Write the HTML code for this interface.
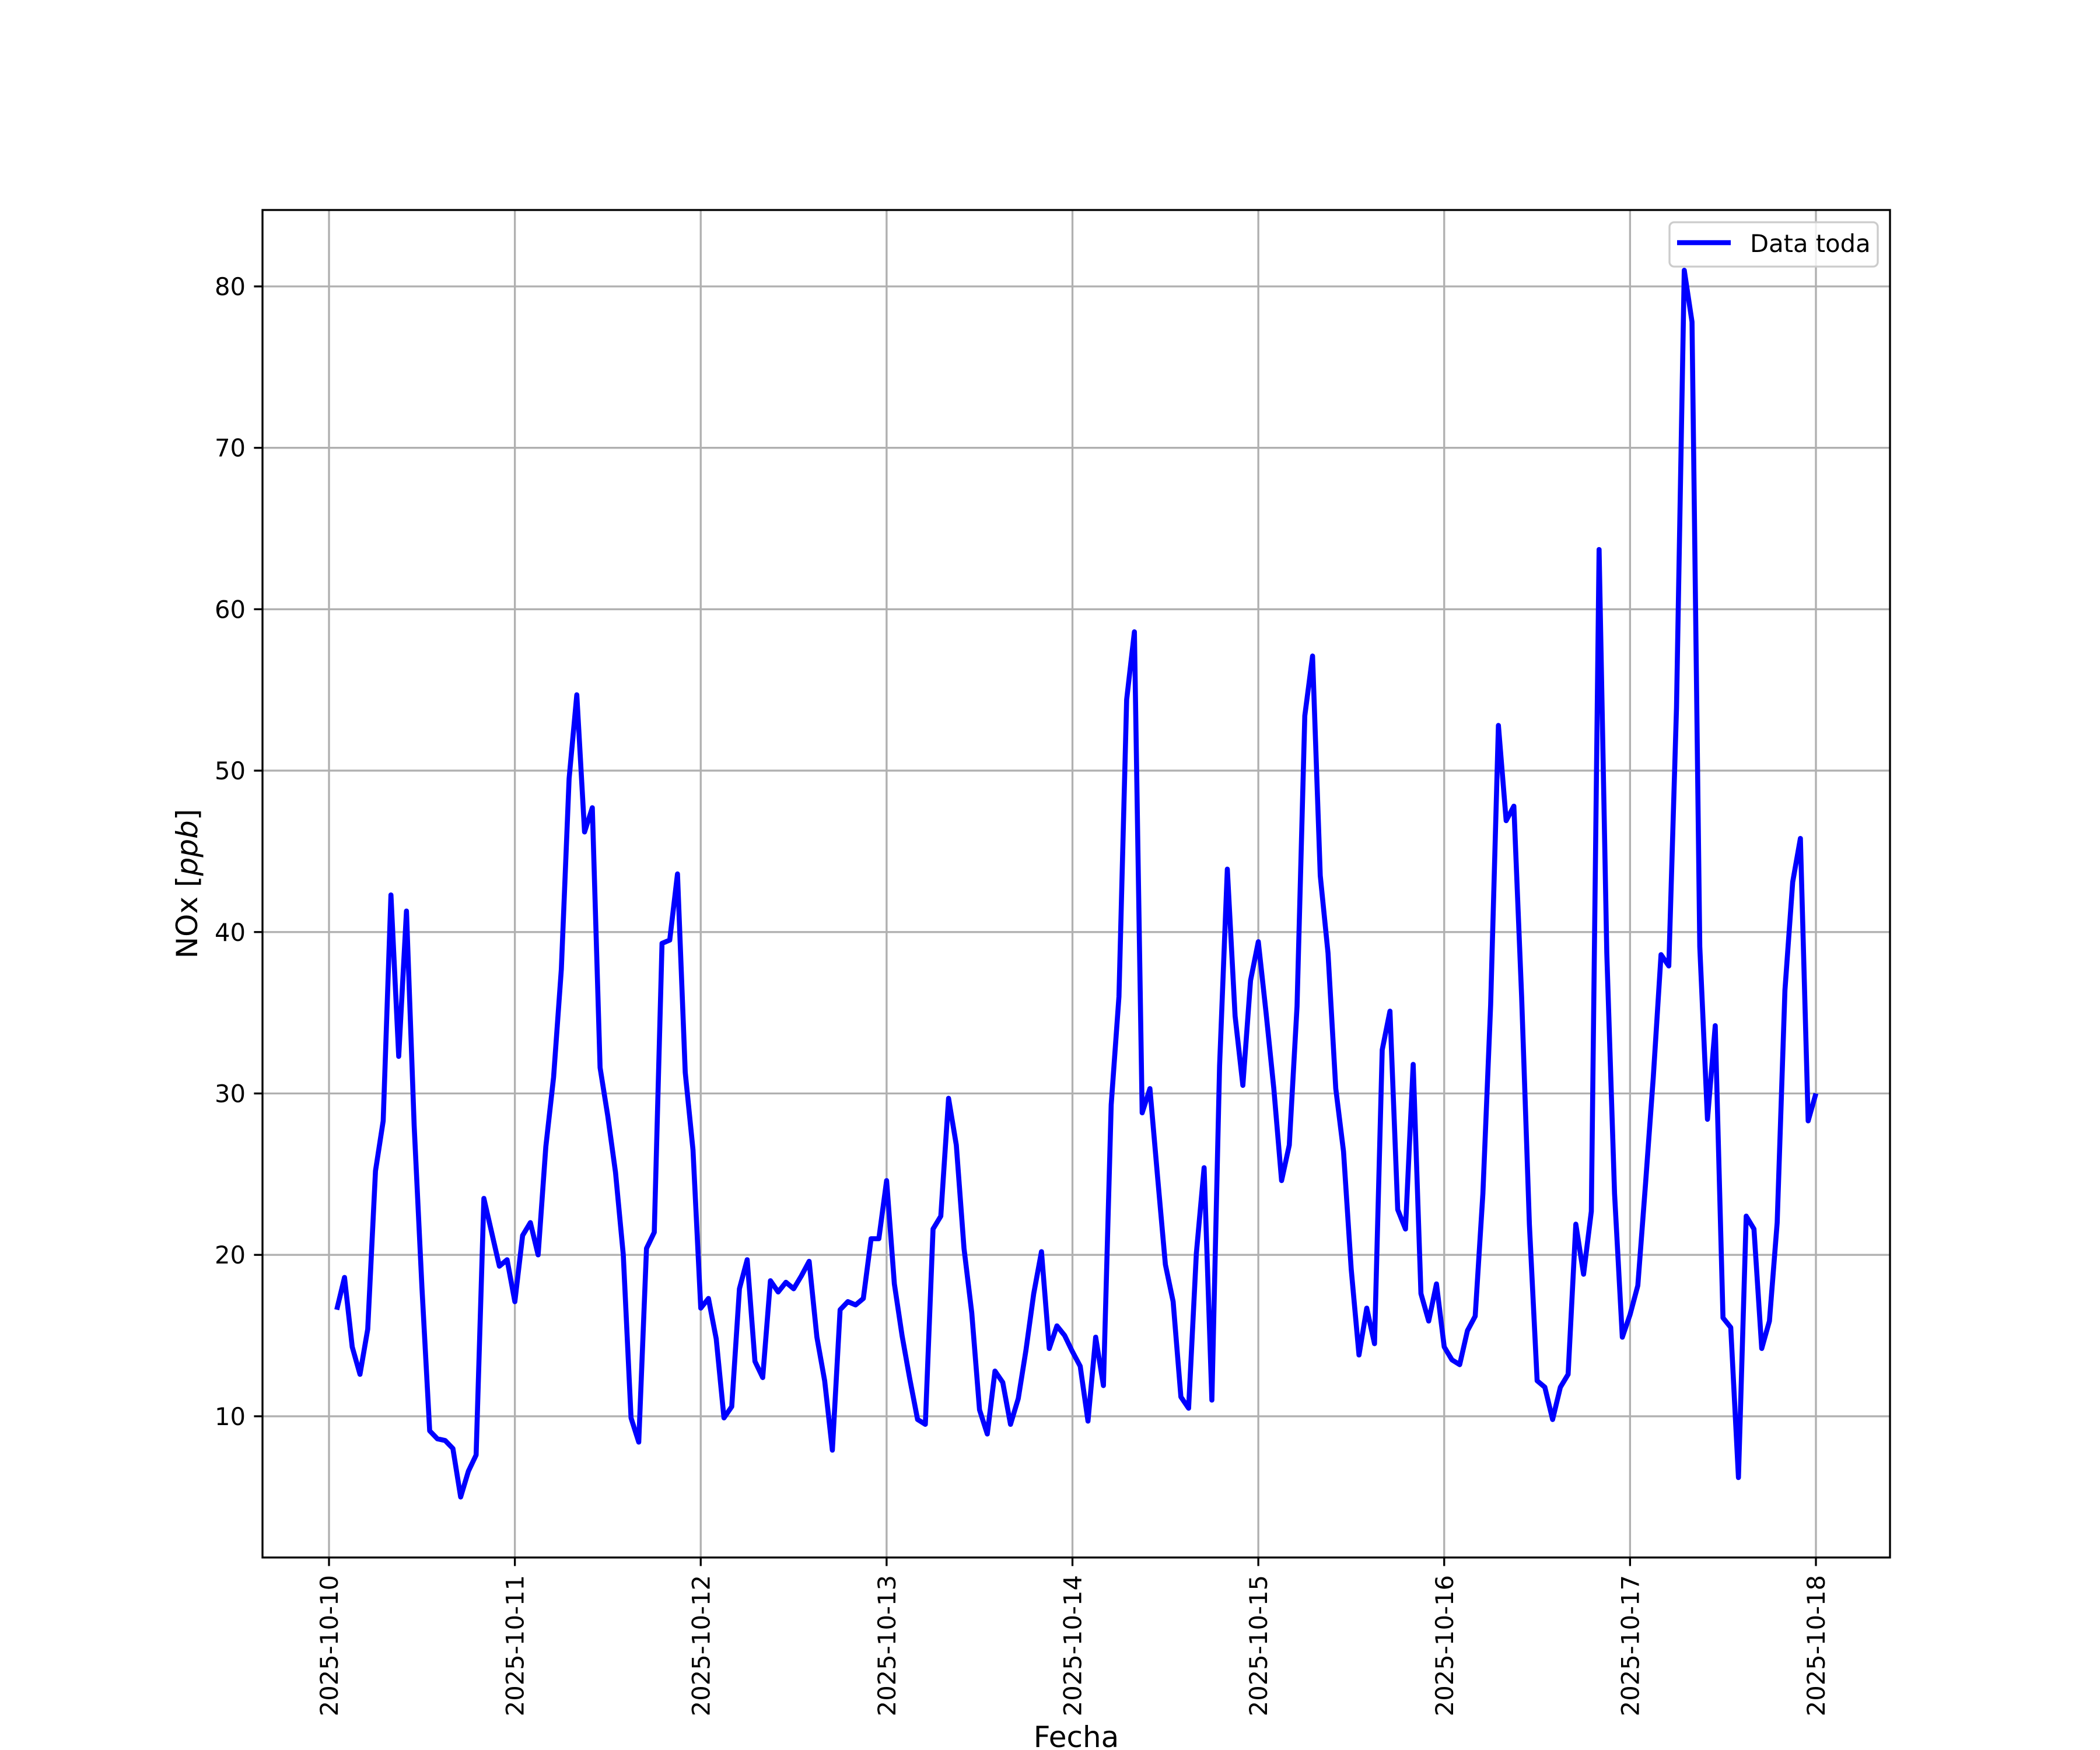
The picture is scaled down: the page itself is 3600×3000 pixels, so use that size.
<!DOCTYPE html>
<html><head><meta charset="utf-8"><style>html,body{margin:0;padding:0;background:#fff}svg{display:block}</style></head>
<body>
<svg id="s" xmlns="http://www.w3.org/2000/svg" width="3600" height="3000" viewBox="0 0 3600 3000" font-family="DejaVu Sans, Liberation Sans, sans-serif">
<rect width="3600" height="3000" fill="#fff"/>
<g id="grid" stroke="#b0b0b0" stroke-width="3.33"></g>
<polyline id="line" fill="none" stroke="#0000ff" stroke-width="8.6" stroke-linejoin="round" stroke-linecap="butt"/>
<rect x="450" y="360" width="2790" height="2310" fill="none" stroke="#000" stroke-width="3.33"/>
<g id="ticks" stroke="#000" stroke-width="3.33"></g>
<g id="labels" font-size="41.7" fill="#000"></g>
<g>
<rect x="2862" y="381" width="357" height="76" rx="8" fill="#fff" fill-opacity="0.8" stroke="#cccccc" stroke-width="3.33"/>
<line x1="2875" y1="416" x2="2967" y2="416" stroke="#0000ff" stroke-width="8.6"/>
<text x="3000" y="432" font-size="41.7">Data toda</text>
</g>
<text x="1845" y="2995" font-size="50" text-anchor="middle">Fecha</text>
<text transform="translate(338,1515) rotate(-90)" font-size="50" text-anchor="middle">NOx [<tspan font-style="italic">ppb</tspan>]</text>
</svg>
<script>
var v=[16.6,18.6,14.3,12.6,15.4,25.2,28.3,42.3,32.3,41.3,28,18,9.1,8.6,8.5,8.0,5.0,6.6,7.6,23.5,21.4,19.3,19.7,17.1,
21.2,22,20,26.7,31,37.7,49.5,54.7,46.2,47.7,31.6,28.6,25.1,20,9.9,8.4,20.4,21.4,39.3,39.5,43.6,31.3,26.5,16.7,
17.3,14.8,9.9,10.6,17.9,19.7,13.4,12.4,18.4,17.7,18.3,17.9,18.7,19.6,14.9,12.2,7.9,16.6,17.1,16.9,17.3,21,21,24.6,
18.2,15,12.3,9.8,9.5,21.6,22.4,29.7,26.8,20.4,16.4,10.4,8.9,12.8,12.1,9.5,11.1,14.1,17.6,20.2,14.2,15.6,15,14,
13.1,9.7,14.9,11.9,29.3,36,54.4,58.6,28.8,30.3,24.8,19.4,17.1,11.2,10.5,20.1,25.4,11,31.7,43.9,34.8,30.5,37,39.4,
35,30.3,24.6,26.8,35.4,53.4,57.1,43.5,38.7,30.3,26.4,19.1,13.8,16.7,14.5,32.7,35.1,22.8,21.6,31.8,17.6,15.9,18.2,14.3,
13.5,13.2,15.3,16.2,23.8,35.5,52.8,46.9,47.8,36,21.9,12.2,11.8,9.8,11.8,12.6,21.9,18.8,22.7,63.7,38.7,23.8,14.9,16.3,
18.1,24.4,31,38.6,37.9,53.9,81,77.8,39.1,28.4,34.2,16.1,15.5,6.2,22.4,21.6,14.2,15.9,22,36.4,43.1,45.8,28.3,30];
var x0=564,dx=(3113-564)/8;
function Y(val){return 491+(80-val)*27.67;}
var pts=v.map(function(val,i){return (x0+(i+1)*dx/24).toFixed(1)+","+Y(val).toFixed(1);}).join(" ");
document.getElementById("line").setAttribute("points",pts);
var ns="http://www.w3.org/2000/svg",g=document.getElementById("grid"),t=document.getElementById("ticks"),l=document.getElementById("labels");
function el(p,n,a,txt){var e=document.createElementNS(ns,n);for(var k in a)e.setAttribute(k,a[k]);if(txt)e.textContent=txt;p.appendChild(e);}
for(var d=0;d<=8;d++){var x=x0+d*dx;
el(g,"line",{x1:x,y1:360,x2:x,y2:2670});
el(t,"line",{x1:x,y1:2670,x2:x,y2:2684.6});
el(l,"text",{transform:"translate("+(x+15)+",2700) rotate(-90)","text-anchor":"end"},"2025-10-"+(10+d));}
for(var k=10;k<=80;k+=10){var y=Y(k);
el(g,"line",{x1:450,y1:y,x2:3240,y2:y});
el(t,"line",{x1:435.4,y1:y,x2:450,y2:y});
el(l,"text",{x:421,y:y+15,"text-anchor":"end"},String(k));}
</script>
</body></html>
